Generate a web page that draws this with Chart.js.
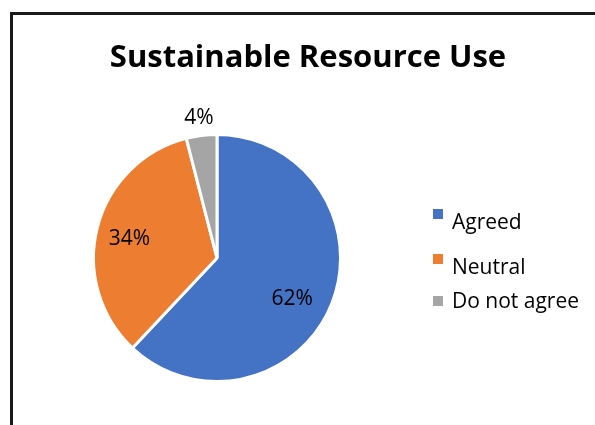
<!DOCTYPE html>
<html>
<head>
<meta charset="utf-8">
<script src="https://cdn.jsdelivr.net/npm/chart.js@4/dist/chart.umd.min.js"></script>
<style>
  html, body { margin: 0; padding: 0; background: #fff; }
  #wrap { position: relative; width: 595px; height: 425px; }
</style>
</head>
<body>
<div id="wrap"><canvas id="c" width="595" height="425"></canvas></div>
<script>
// Survey responses on sustainable resource use
const categories = ['Agreed', 'Neutral', 'Do not agree'];
const shares = [62, 34, 4];
const sliceColors = ['#4472C4', '#ED7D31', '#A5A5A5'];
const chartTitle = 'Sustainable Resource Use';

const FONT = '"Open Sans", Lato, sans-serif';

// Frame, title, value labels and legend drawn on top of the pie
const decorations = {
  id: 'decorations',
  afterDraw(chart) {
    const ctx = chart.ctx;
    ctx.save();

    // frame lines on the left and top
    ctx.fillStyle = '#1a1a1a';
    ctx.fillRect(10, 12, 3, 413);
    ctx.fillRect(10, 12, 585, 3);

    // title
    ctx.fillStyle = '#000';
    ctx.font = 'bold 31px ' + FONT;
    ctx.textAlign = 'center';
    ctx.textBaseline = 'middle';
    ctx.fillText(chartTitle, 308, 58);

    // percentage labels placed along each slice's mid-angle, with small nudges
    const meta = chart.getDatasetMeta(0);
    const radial = [0.68, 0.74, 1.16];
    const nudge = [[-3, 8], [1, 2], [0, 0]];
    ctx.font = '21px ' + FONT;
    meta.data.forEach((arc, i) => {
      const p = arc.getProps(['x', 'y', 'startAngle', 'endAngle', 'outerRadius'], true);
      const mid = (p.startAngle + p.endAngle) / 2;
      const r = p.outerRadius * radial[i];
      const x = p.x + Math.cos(mid) * r + nudge[i][0];
      const y = p.y + Math.sin(mid) * r + 2 + nudge[i][1];
      ctx.fillStyle = '#000';
      ctx.fillText(shares[i] + '%', x, y);
    });

    // legend
    const rows = [223, 268, 302];
    const swatchY = [209, 254, 296];
    ctx.textAlign = 'left';
    ctx.font = '21px ' + FONT;
    categories.forEach((name, i) => {
      ctx.fillStyle = sliceColors[i];
      ctx.fillRect(433, swatchY[i], 10, 10);
      ctx.fillStyle = '#000';
      ctx.fillText(name, 452, rows[i]);
    });

    ctx.restore();
  }
};

new Chart(document.getElementById('c'), {
  type: 'pie',
  data: {
    labels: categories,
    datasets: [{
      data: shares,
      backgroundColor: sliceColors,
      borderColor: '#ffffff',
      borderWidth: 3
    }]
  },
  options: {
    responsive: false,
    animation: false,
    layout: { padding: { left: 92, right: 253, top: 131, bottom: 40 } },
    plugins: {
      legend: { display: false },
      title: { display: false },
      tooltip: { enabled: false }
    }
  },
  plugins: [decorations]
});
</script>
</body>
</html>
